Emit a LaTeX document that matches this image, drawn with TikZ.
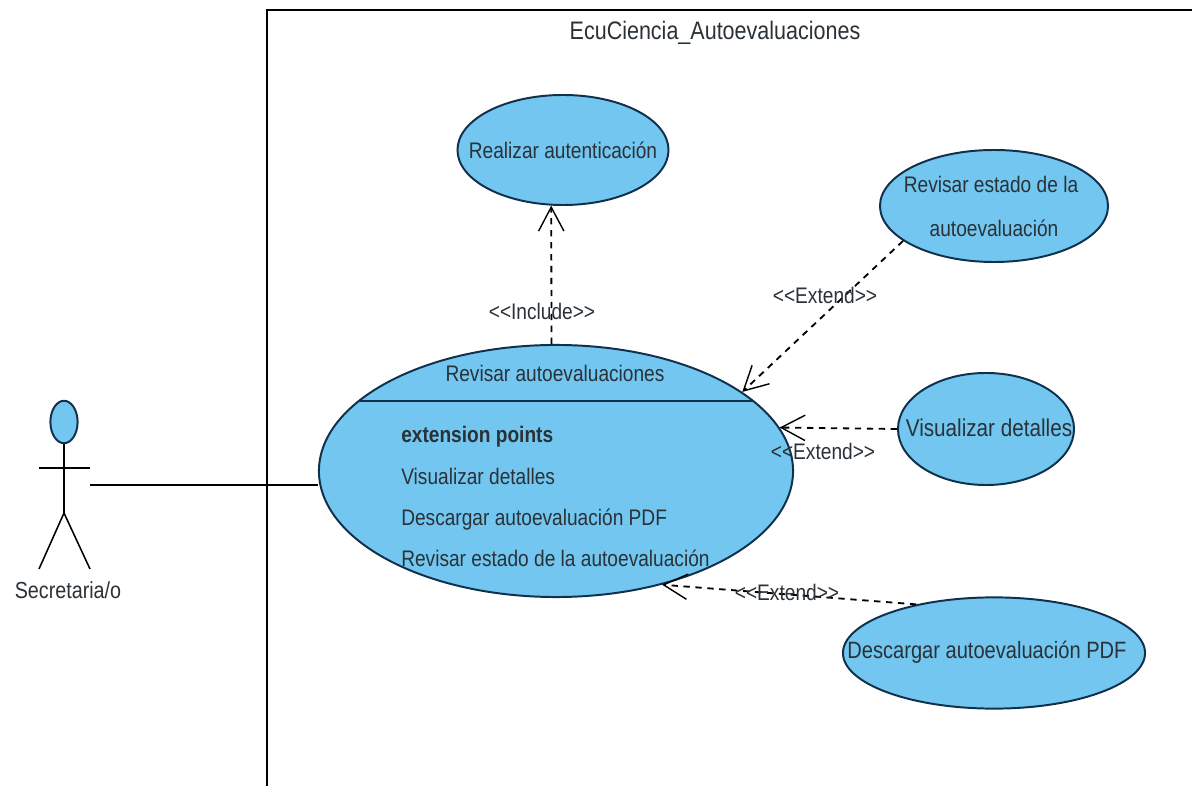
\documentclass[tikz,border=0pt]{standalone}
\usepackage{fontspec}
\setmainfont{Liberation Sans}[FakeStretch=0.85]
\usetikzlibrary{arrows.meta}
\usetikzlibrary{shapes.geometric}
\definecolor{ucfill}{HTML}{72C6EF}
\definecolor{ucline}{HTML}{10304C}
\definecolor{uctext}{HTML}{2A3238}
\tikzset{
    usecase/.style={draw=ucline,fill=ucfill,line width=1.4pt,ellipse,inner sep=0pt},
    uclabel/.style={text=uctext,inner sep=0pt,font=\fontsize{16}{19}\selectfont},
    stereo/.style={text=uctext,inner sep=0pt,font=\fontsize{16}{19}\selectfont},
    depend/.style={dash pattern=on 4.5pt off 4pt,line width=1.3pt,-{Straight Barb[length=17pt,width=18pt,line width=1pt]}}
}
\begin{document}
\begin{tikzpicture}[x=0.025cm,y=-0.025cm]
\useasboundingbox (0,0) rectangle (1192,786);

% system boundary
\draw[line width=1.4pt] (267,786) -- (267,10) -- (1192,10);
\node[uclabel,font=\fontsize{18}{21}\selectfont] (system) at (715,33) {EcuCiencia\_Autoevaluaciones};

% use cases
\node[usecase,minimum width=5.275cm,minimum height=2.75cm] (auth) at (563,150) {};
\node[usecase,minimum width=5.7cm,minimum height=2.8cm] (estado) at (994,206) {};
\node[usecase,minimum width=4.4cm,minimum height=2.8cm] (detalles) at (986,429) {};
\node[usecase,minimum width=7.55cm,minimum height=2.78cm] (descarga) at (994,653) {};
\node[usecase,minimum width=11.85cm,minimum height=6.3cm] (revisar) at (556,471) {};

\draw[line width=1.6pt,draw=ucline] (359,401) -- (753,401);

\node[uclabel] (authtext) at (auth) {Realizar autenticación};
\node[uclabel] (estadotop) at (991,184) {Revisar estado de la};
\node[uclabel] (estadobot) at (994,228) {autoevaluación};
\node[uclabel,font=\fontsize{17.3}{20}\selectfont] (detallestext) at (989,428) {Visualizar detalles};
\node[uclabel,font=\fontsize{16.8}{20}\selectfont] (descargatext) at (987,652) {Descargar autoevaluación PDF};

\node[uclabel] (revisartitle) at (555,373) {Revisar autoevaluaciones};
\node[uclabel,anchor=base west,font=\fontsize{16}{19}\selectfont\bfseries] (extpoints) at (401,443) {extension points};
\node[uclabel,anchor=base west] (ptdetalles) at (401,485) {Visualizar detalles};
\node[uclabel,anchor=base west] (ptdescarga) at (401,526) {Descargar autoevaluación PDF};
\node[uclabel,anchor=base west] (ptestado) at (401,567) {Revisar estado de la autoevaluación};

% actor
\node[usecase,minimum width=0.68cm,minimum height=1.06cm] (head) at (64,422) {};
\coordinate (hip) at (64,513);
\coordinate (actor) at (90,485);
\draw[line width=1.1pt] (head.south) -- (hip) -- (39,569);
\draw[line width=1.1pt] (hip) -- (90,569);
\draw[line width=1.1pt] (39,468) -- (90,468);
\node[uclabel,font=\fontsize{16.5}{19}\selectfont] (secretaria) at (68,590) {Secretaria/o};

\draw[line width=1.4pt] (actor) -- (revisar.west |- actor);

% dependencies
\draw[depend] (revisar.92) -- (auth.-102);
\draw[depend] (estado.201) -- (revisar.23);
\draw[depend] (detalles.west) -- (revisar.11.2);
\draw[depend] (descarga.148) -- (revisar.-47);

\node[stereo] (include) at (542,311) {<{}<Include>{}>};
\node[stereo] (extend1) at (825,295) {<{}<Extend>{}>};
\node[stereo] (extend2) at (823,451) {<{}<Extend>{}>};
\node[stereo] (extend3) at (787,592) {<{}<Extend>{}>};
\end{tikzpicture}
\end{document}
